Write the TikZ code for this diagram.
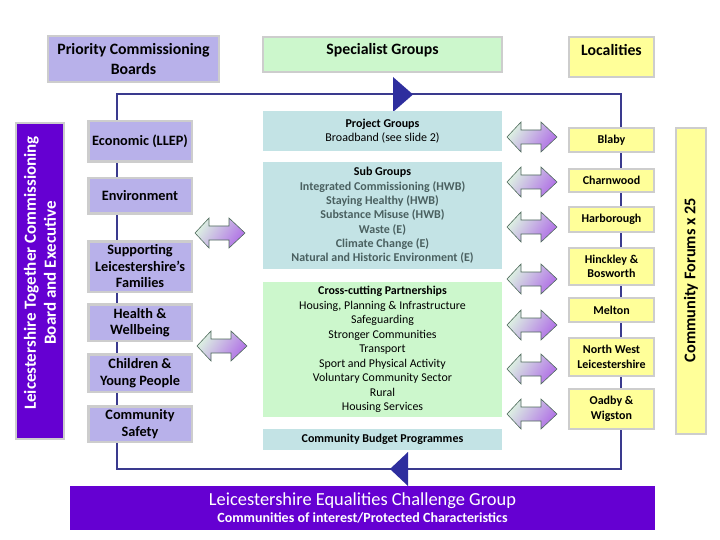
\documentclass[tikz,border=0pt]{standalone}
\usepackage{fontspec}
\setmainfont{Carlito}
\definecolor{lpurple}{HTML}{B8B1EA}
\definecolor{dpurple}{HTML}{6500D2}
\definecolor{tealbox}{HTML}{C3E3E5}
\definecolor{lgreen}{HTML}{CCF7CC}
\definecolor{lyellow}{HTML}{FFFF99}
\definecolor{loopblue}{HTML}{3A3A8E}
\definecolor{triblue}{HTML}{2E2E9E}
\definecolor{framegray}{HTML}{CDCDCD}
\definecolor{subgray}{HTML}{4A6060}
\definecolor{agreen}{HTML}{DDF2E2}
\definecolor{apurple}{HTML}{B070E6}
\definecolor{aline}{HTML}{4F6B5C}
\newcommand{\sgline}[1]{{\color{subgray}\bfseries #1}}
\tikzset{
  framed/.style={draw=framegray, line width=2.5pt, inner sep=2pt, align=center},
  pbox/.style={framed, fill=lpurple, minimum width=103.5, font=\fontsize{14.3}{16.5}\selectfont\bfseries},
  ybox/.style={framed, fill=lyellow, line width=2pt, minimum width=85, font=\fontsize{12}{14.5}\selectfont\bfseries},
  mbox/.style={fill=tealbox, minimum width=239, align=center, inner sep=2pt, font=\fontsize{12}{14.3}\selectfont},
  arrowfill/.style={draw=aline, line width=0.6pt, line join=miter, top color=agreen, middle color=agreen!92!apurple, bottom color=apurple, shading angle=55},
  dblarrow/.pic={\path[arrowfill] (-25,0) -- (-11,-15) -- (-11,-7) -- (9,-7) -- (9,-15) -- (25,0) -- (9,15) -- (9,7) -- (-11,7) -- (-11,15) -- cycle;},
  headtext/.style={font=\fontsize{15.8}{19.5}\selectfont\bfseries, align=center},
  looppath/.style={draw=loopblue, line width=2pt},
  tri/.style={fill=triblue}
}
\begin{document}
\begin{tikzpicture}[x=1pt,y=-1pt]
\useasboundingbox (0,0) rectangle (720,540);
% loop connector
\coordinate (ltop) at (117,94);
\coordinate (rtop) at (621,94);
\coordinate (rbot) at (621,469);
\coordinate (lbot) at (117,469);
\draw[looppath] (ltop) -- (rtop) -- (rbot) -- (lbot) -- cycle;
\fill[tri] (393,77) -- (413,94.5) -- (393,112) -- cycle;
\fill[tri] (408,452) -- (390,469) -- (408,486) -- cycle;

% headers
\node[framed, fill=lpurple, minimum width=171, minimum height=46, headtext] (pcb) at (133.5,59) {Priority Commissioning\\Boards};
\node[framed, fill=lgreen, minimum width=239, minimum height=35] (sgbox) at (382.5,54.5) {};
\node[headtext] (sgtext) at (382.5,50) {Specialist Groups};
\node[framed, fill=lyellow, minimum width=85, minimum height=40] (locbox) at (611.5,57) {};
\node[headtext] (loctext) at (611.5,50) {Localities};

% left bar
\node[framed, fill=dpurple, minimum width=48, minimum height=316] (ltbar) at (40,281) {};
\node[rotate=90, text=white, align=center, font=\fontsize{17}{20}\selectfont\bfseries] (ltbartext) at (40,273) {Leicestershire Together Commissioning\\Board and Executive};

% left boxes
\node[pbox, minimum height=40.5] (econ) at (140,141.5) {Economic (LLEP)};
\node[pbox, minimum height=35.5] (env) at (140,196) {Environment};
\node[pbox, minimum height=50.5] (supp) at (140,266.5) {Supporting\\Leicestershire’s\\Families};
\node[pbox, minimum height=36.5] (health) at (140,322.5) {Health \&\\Wellbeing};
\node[pbox, minimum height=37.5] (child) at (140,373) {Children \&\\Young People};
\node[pbox, minimum height=35.5] (safety) at (140,424) {Community\\Safety};

% middle boxes
\node[mbox, minimum height=40] (proj) at (382.5,131) {\textbf{Project Groups}\\Broadband (see slide 2)};
\node[mbox, minimum height=107] (sub) at (382.5,215.5) {\textbf{Sub Groups}\\\sgline{Integrated Commissioning (HWB)}\\\sgline{Staying Healthy (HWB)}\\\sgline{Substance Misuse (HWB)}\\\sgline{Waste (E)}\\\sgline{Climate Change (E)}\\\sgline{Natural and Historic Environment (E)}};
\node[mbox, fill=lgreen, minimum height=135, font=\fontsize{11.9}{14.5}\selectfont] (cross) at (382.5,349.5) {\textbf{Cross-cutting Partnerships}\\Housing, Planning \& Infrastructure\\Safeguarding\\Stronger Communities\\Transport\\Sport and Physical Activity\\Voluntary Community Sector\\Rural\\Housing Services};
\node[mbox, minimum height=21, font=\fontsize{12}{14}\selectfont\bfseries] (budget) at (382.5,439.5) {Community Budget Programmes};

% localities
\node[ybox, minimum height=24] (blaby) at (611.5,140) {Blaby};
\node[ybox, minimum height=23] (charn) at (611.5,180.5) {Charnwood};
\node[ybox, minimum height=25] (harb) at (611.5,219.5) {Harborough};
\node[ybox, minimum height=37] (hinck) at (611.5,266.5) {Hinckley \&\\Bosworth};
\node[ybox, minimum height=24] (melton) at (611.5,310) {Melton};
\node[ybox, minimum height=38] (nwl) at (611.5,357) {North West\\Leicestershire};
\node[ybox, minimum height=40] (oadby) at (611.5,409) {Oadby \&\\Wigston};

% community forums
\node[framed, fill=lyellow, line width=2pt, minimum width=30, minimum height=306] (cfbox) at (691,281) {};
\node[rotate=90, font=\fontsize{16.3}{18}\selectfont\bfseries] (cftext) at (691,280) {Community Forums x 25};

% double arrows
\pic (ar1) at (532,137) {dblarrow};
\pic (ar2) at (532,182) {dblarrow};
\pic (ar3) at (532,227) {dblarrow};
\pic (ar4) at (532,279) {dblarrow};
\pic (ar5) at (532,325) {dblarrow};
\pic (ar6) at (532,369) {dblarrow};
\pic (ar7) at (532,414) {dblarrow};
\pic (al1) at (220,233) {dblarrow};
\pic (al2) at (222,346) {dblarrow};

% equalities
\node[fill=dpurple, minimum width=585, minimum height=44, inner sep=0pt, text=white, align=center] (eq) at (362.5,508) {{\fontsize{18.4}{20}\selectfont Leicestershire Equalities Challenge Group}\\[3pt]{\fontsize{14}{15}\selectfont\bfseries Communities of interest/Protected Characteristics}};
\end{tikzpicture}
\end{document}
